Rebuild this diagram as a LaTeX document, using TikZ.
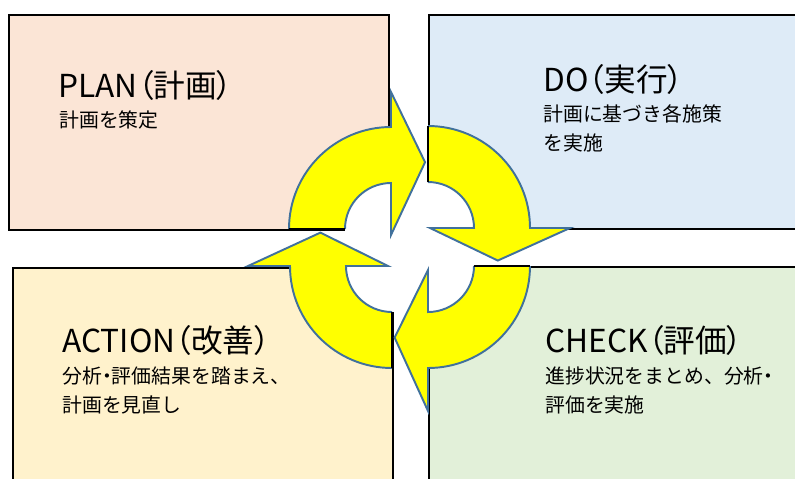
\documentclass[tikz,border=0pt]{standalone}
\usepackage{fontspec}
\setmainfont{Noto Sans CJK JP}
\newfontfamily\titlefont[RawFeature=+palt]{Noto Sans CJK JP}
\usetikzlibrary{positioning}
\definecolor{planfill}{HTML}{FBE5D6}
\definecolor{dofill}{HTML}{DEEBF7}
\definecolor{actfill}{HTML}{FFF2CC}
\definecolor{chkfill}{HTML}{E2F0D9}
\definecolor{arrowblue}{HTML}{41719C}
\definecolor{arrowyellow}{HTML}{FFFF00}

\begin{document}
\begin{tikzpicture}[
    x=0.02cm, y=0.02cm,
    box/.style={draw=black, line width=1.4pt, rectangle, anchor=north west, inner sep=0pt},
    title/.style={anchor=base west, inner sep=0pt, font=\titlefont\fontsize{18pt}{22pt}\selectfont},
    body/.style={anchor=base west, inner sep=0pt, align=left, font=\fontsize{11.3pt}{16.2pt}\selectfont},
    cyclearrow/.style={fill=arrowyellow, draw=arrowblue, line width=1.1pt, line join=miter},
    tail/.style={draw=black, line width=1.4pt}
]
  \useasboundingbox (0,0) rectangle (795,-478);
  \clip (0,0) rectangle (795,-478);

  % Boxes
  \node[box, fill=planfill, minimum width=7.6cm, minimum height=4.3cm] (plan) at (8,-14) {};
  \node[box, fill=dofill, minimum width=8cm, minimum height=4.28cm] (do) at (428,-14) {};
  \node[box, fill=actfill, minimum width=7.6cm, minimum height=5cm] (action) at (12,-267) {};
  \node[box, fill=chkfill, minimum width=8cm, minimum height=5cm] (check) at (428,-266) {};

  % Centres of the circular arrows
  \coordinate (cPlan) at (391,-229);
  \coordinate (cDo) at (428,-228);
  \coordinate (cCheck) at (428,-266);
  \coordinate (cAction) at (392,-266);

  % Hole in the middle
  \fill[white] (cPlan) circle[radius=46];
  \fill[white] (cDo) circle[radius=46];
  \fill[white] (cCheck) circle[radius=46];
  \fill[white] (cAction) circle[radius=46];

  % Circular arrows (tail on the box edge, head turned clockwise)
  \filldraw[cyclearrow, shift={(cPlan)}] (180:102) arc[start angle=180, end angle=90, radius=102]
    -- (90:137) -- (63:75) -- (90:-6) -- (90:46) arc[start angle=90, end angle=180, radius=46];
  \filldraw[cyclearrow, shift={(cDo)}, rotate=-90] (180:102) arc[start angle=180, end angle=90, radius=102]
    -- (90:142) -- (65:77) -- (90:2) -- (90:46) arc[start angle=90, end angle=180, radius=46];
  \filldraw[cyclearrow, shift={(cCheck)}, rotate=-180] (180:102) arc[start angle=180, end angle=90, radius=102]
    -- (90:145) -- (65:79) -- (90:4) -- (90:46) arc[start angle=90, end angle=180, radius=46];
  \filldraw[cyclearrow, shift={(cAction)}, rotate=-270] (180:102) arc[start angle=180, end angle=90, radius=102]
    -- (90:144) -- (65:79) -- (90:4) -- (90:46) arc[start angle=90, end angle=180, radius=46];

  % Box edge left visible at each tail
  \draw[tail, shift={(cPlan)}] (180:46) -- (180:102);
  \draw[tail, shift={(cDo)}] (90:46) -- (90:102);
  \draw[tail, shift={(cCheck)}] (0:46) -- (0:102);
  \draw[tail, shift={(cAction)}] (270:46) -- (270:102);

  % Texts (base of a two-line text is its last line)
  \node[title] (planTitle) at (58,-97) {PLAN（計画）};
  \node[body] (planText) at (59,-127) {計画を策定};
  \node[title] (doTitle) at (543,-91) {DO（実行）};
  \node[body] (doText) at (543,-150) {計画に基づき各施策\\を実施};
  \node[title] (actionTitle) at (62,-352) {ACTION（改善）};
  \node[body] (actionText) at (62,-412) {分析{\titlefont ・}評価結果を踏まえ、\\計画を見直し};
  \node[title] (checkTitle) at (545,-352) {CHECK（評価）};
  \node[body] (checkText) at (545,-412) {進捗状況をまとめ、分析{\titlefont ・}\\評価を実施};
\end{tikzpicture}
\end{document}
